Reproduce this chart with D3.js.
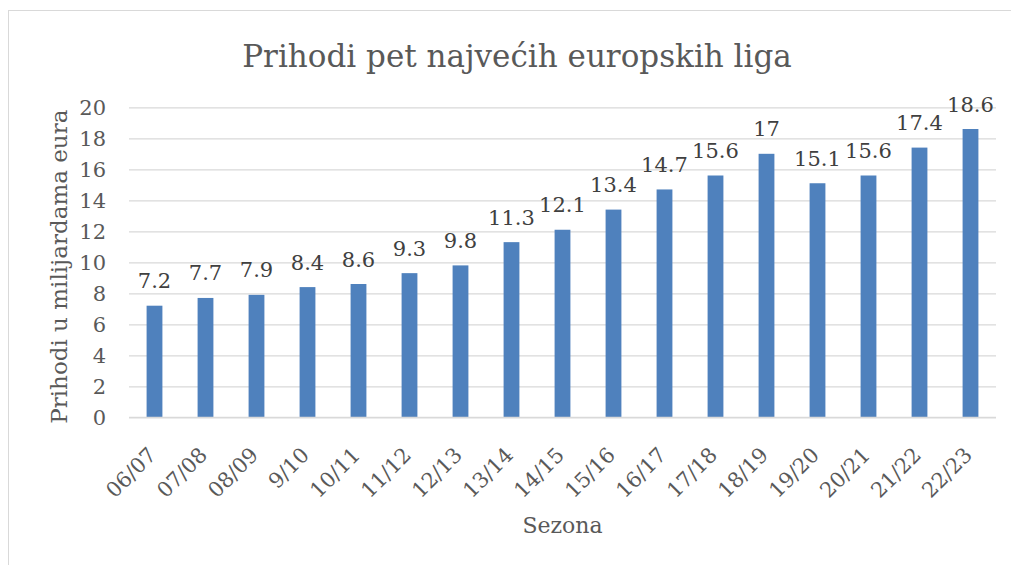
<!DOCTYPE html>
<html><head><meta charset="utf-8">
<script src="https://cdn.jsdelivr.net/npm/d3@7"></script>
<style>body{margin:0;background:#fff}svg{display:block}text{font-family:"DejaVu Serif",serif}</style>
</head><body><svg id="c" width="1011" height="565"></svg>
<script>
const categories = ["06/07","07/08","08/09","9/10","10/11","11/12","12/13","13/14","14/15","15/16","16/17","17/18","18/19","19/20","20/21","21/22","22/23"];
const values = [7.2,7.7,7.9,8.4,8.6,9.3,9.8,11.3,12.1,13.4,14.7,15.6,17,15.1,15.6,17.4,18.6];
const yTicks = [0,2,4,6,8,10,12,14,16,18,20];
const title = "Prihodi pet najvećih europskih liga";
const xTitle = "Sezona";
const yTitle = "Prihodi u milijardama eura";

const F = "DejaVu Serif";
const svg = d3.select("#c");
const m = {left:129, right:996, top:107.3, bottom:417.3};
svg.append("rect").attr("x",8.5).attr("y",10.5).attr("width",1010).attr("height",600)
  .attr("fill","none").attr("stroke","#d9d9d9");

const x = d3.scaleBand().domain(categories).range([m.left,m.right]).paddingInner(0.69).paddingOuter(0.345);
const y = d3.scaleLinear().domain([0,20]).range([m.bottom,m.top]);

const yAxis = svg.append("g").attr("transform",`translate(${m.left},0)`)
  .call(d3.axisLeft(y).tickValues(yTicks).tickSize(-(m.right-m.left)).tickPadding(23));
yAxis.select(".domain").remove();
yAxis.selectAll(".tick line").attr("stroke","#d9d9d9").attr("stroke-width",1.3);
yAxis.selectAll(".tick text").attr("fill","#595959").style("font-size","21px").style("font-family",F);

svg.append("g").selectAll("rect").data(values).join("rect")
  .attr("x",(d,i)=>x(categories[i])).attr("width",x.bandwidth())
  .attr("y",d=>y(d)).attr("height",d=>y(0)-y(d)).attr("fill","#4f81bd");

svg.append("line").attr("x1",m.left).attr("x2",m.right).attr("y1",y(0)).attr("y2",y(0))
  .attr("stroke","#d9d9d9").attr("stroke-width",1.3);

svg.append("g").selectAll("text").data(values).join("text")
  .attr("x",(d,i)=>x(categories[i])+x.bandwidth()/2).attr("y",d=>y(d)-17.5)
  .attr("text-anchor","middle").attr("fill","#404040").style("font-size","21px")
  .text(d=>d);

const xAxis = svg.append("g").attr("transform",`translate(0,${m.bottom})`)
  .call(d3.axisBottom(x).tickSize(0).tickPadding(0));
xAxis.select(".domain").remove();
xAxis.selectAll(".tick text").attr("fill","#595959").style("font-size","21px").style("font-family",F)
  .attr("text-anchor","end").attr("dy",null).attr("y",null)
  .attr("transform","translate(3,39) rotate(-45)");

svg.append("text").attr("x",517).attr("y",67).attr("text-anchor","middle")
  .attr("fill","#595959").style("font-size","31px").text(title);
svg.append("text").attr("x",562.5).attr("y",533).attr("text-anchor","middle")
  .attr("fill","#595959").style("font-size","22px").text(xTitle);
svg.append("text").attr("transform",`translate(67,266.7) rotate(-90)`).attr("text-anchor","middle")
  .attr("fill","#595959").style("font-size","23px").text(yTitle);
</script></body></html>
